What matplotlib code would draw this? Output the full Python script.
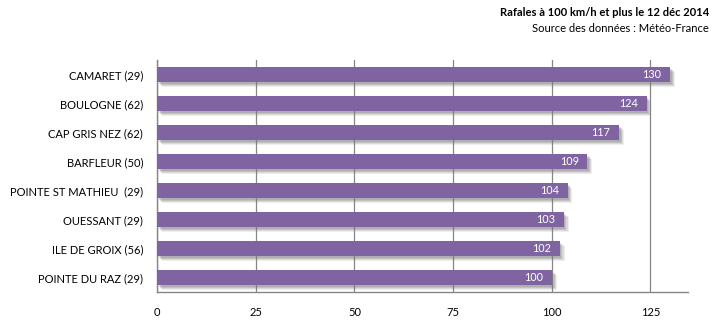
import matplotlib
matplotlib.use("Agg")
import matplotlib.pyplot as plt
import matplotlib.patheffects as pe

stations = ["CAMARET (29)", "BOULOGNE (62)", "CAP GRIS NEZ (62)", "BARFLEUR (50)",
            "POINTE ST MATHIEU  (29)", "OUESSANT (29)", "ILE DE GROIX (56)", "POINTE DU RAZ (29)"]
gusts = [130, 124, 117, 109, 104, 103, 102, 100]
xticks = [0, 25, 50, 75, 100, 125]

plt.rcParams['font.family'] = ['Lato', 'DejaVu Sans']

fig = plt.figure(figsize=(7.15, 3.27), dpi=100)
ax = fig.add_axes([157/715, 1 - 292/327, (688 - 157)/715, (292 - 60)/327])

ypos = list(range(len(stations)))
bars = ax.barh(ypos, gusts, height=0.52, color="#8064A2", zorder=3)

# soft drop shadow built from stacked translucent offsets
shadow = [pe.SimplePatchShadow(offset=(o, -o), shadow_rgbFace="#7a7a7a", alpha=a)
          for o, a in [(3.5, 0.12), (2.8, 0.18), (2.0, 0.25), (1.2, 0.25)]]
for b in bars:
    b.set_path_effects(shadow + [pe.Normal()])

for y, v in zip(ypos, gusts):
    ax.text(v - 2.2, y, str(v), color="white", ha="right", va="center", fontsize=7.8, zorder=4)

ax.set_xlim(0, 134.5)
ax.set_ylim(len(stations) - 0.5, -0.5)
ax.set_yticks(ypos)
ax.set_yticklabels(stations, fontsize=8)
ax.set_xticks(xticks)
ax.set_xticklabels([str(t) for t in xticks], fontsize=8)
ax.tick_params(axis="y", length=0, pad=10)
ax.tick_params(axis="x", length=0, pad=11)

ax.grid(axis="x", color="#868686", linewidth=0.9, zorder=0)
for s in ["top", "right"]:
    ax.spines[s].set_visible(False)
for s in ["left", "bottom"]:
    ax.spines[s].set_color("#868686")
    ax.spines[s].set_linewidth(1.0)

fig.text(709/715, 1 - 12/327, "Rafales à 100 km/h et plus le 12 déc 2014",
         ha="right", va="center", fontsize=8, fontweight="bold")
fig.text(709/715, 1 - 29/327, "Source des données : Météo-France",
         ha="right", va="center", fontsize=8)

fig.savefig("out.png", dpi=100)
